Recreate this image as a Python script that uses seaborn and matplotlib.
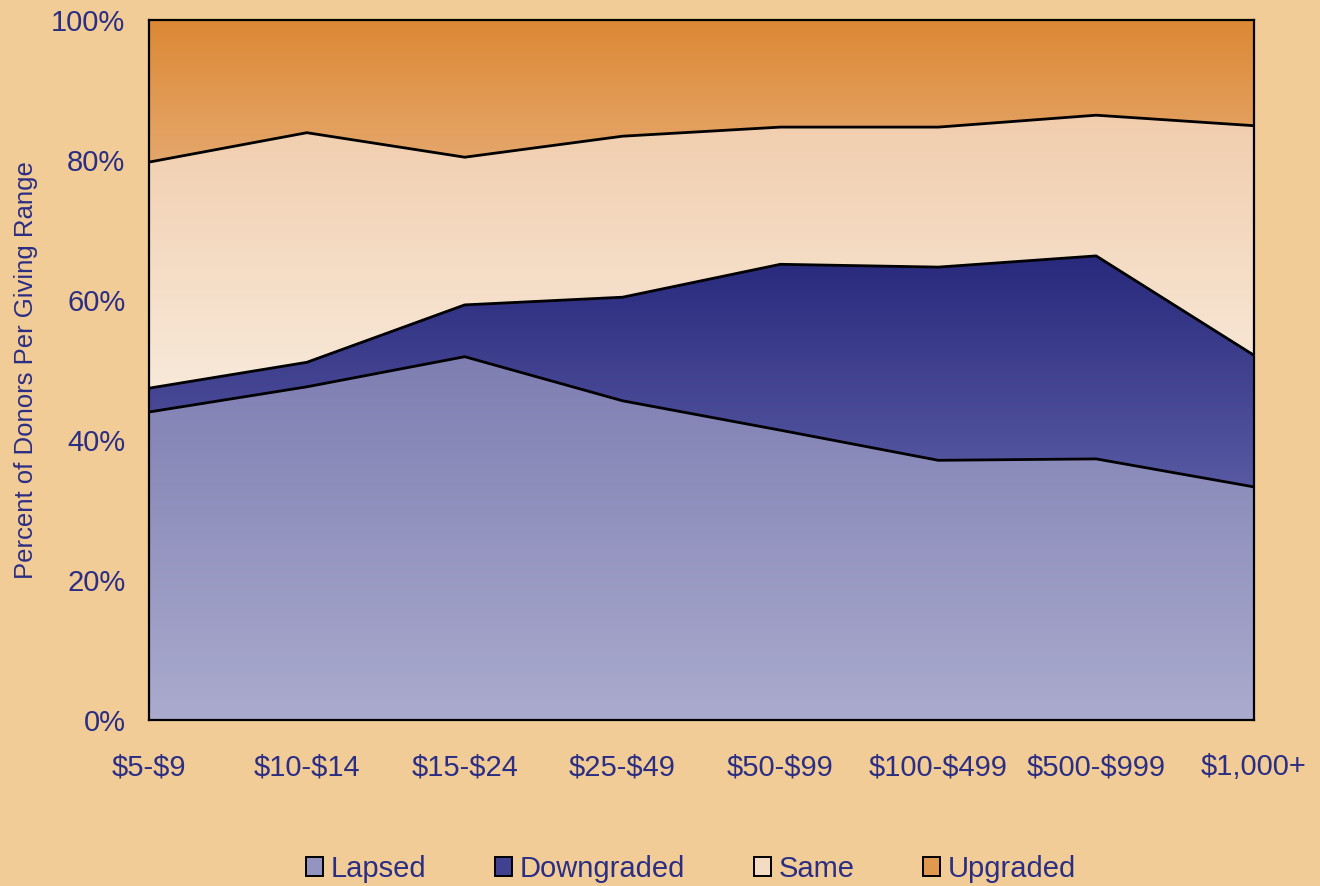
import numpy as np
import pandas as pd
import matplotlib
matplotlib.use("Agg")
import matplotlib.pyplot as plt
import matplotlib.colors as mcolors
from matplotlib.patches import Patch
import seaborn as sns

categories = ["$5-$9", "$10-$14", "$15-$24", "$25-$49", "$50-$99", "$100-$499", "$500-$999", "$1,000+"]
lapsed = [44.0, 47.6, 51.9, 45.6, 41.4, 37.1, 37.3, 33.3]
downgraded = [3.4, 3.5, 7.4, 14.8, 23.7, 27.6, 29.0, 18.8]
same = [32.3, 32.8, 21.1, 23.0, 19.6, 20.0, 20.1, 32.8]
upgraded = [20.3, 16.1, 19.6, 16.6, 15.3, 15.3, 13.6, 15.1]
series_names = ["Lapsed", "Downgraded", "Same", "Upgraded"]
yticks = [0, 20, 40, 60, 80, 100]

BG = "#F2CC96"
TXT = "#2B2E83"
# (bottom colour, top colour) of each gradient fill
grads = {
    "Lapsed": ("#AAABCE", "#7E7EB2"),
    "Downgraded": ("#5859A2", "#29297D"),
    "Same": ("#F8E9D9", "#F1CDAD"),
    "Upgraded": ("#E5A76C", "#DC8833"),
}

sns.set_theme(style="white", rc={"axes.facecolor": BG, "figure.facecolor": BG})
plt.rcParams["font.family"] = ["Liberation Sans", "DejaVu Sans"]
plt.rcParams["text.parse_math"] = False

fig = plt.figure(figsize=(13.2, 8.86), dpi=100)
ax = fig.add_axes([149 / 1320, 1 - 720 / 886, (1254 - 149) / 1320, 700 / 886])

x = np.arange(len(categories))
data = [lapsed, downgraded, same, upgraded]
base = np.zeros(len(x))
tops = []
for name, vals in zip(series_names, data):
    top = base + np.array(vals)
    poly = ax.fill_between(x, base, top, facecolor="none", edgecolor="none", lw=0)
    lo, hi = base.min(), top.max()
    c0 = np.array(mcolors.to_rgb(grads[name][0]))
    c1 = np.array(mcolors.to_rgb(grads[name][1]))
    t = np.linspace(0, 1, 256)[:, None]
    img = (c0 * (1 - t) + c1 * t)[:, None, :]
    im = ax.imshow(img, extent=[x[0], x[-1], lo, hi], origin="lower", aspect="auto",
                   interpolation="bilinear", zorder=1)
    im.set_clip_path(poly.get_paths()[0], transform=ax.transData)
    tops.append(top)
    base = top

lines_df = pd.DataFrame({"x": np.tile(x, 3),
                         "y": np.concatenate(tops[:3]),
                         "b": np.repeat(series_names[:3], len(x))})
sns.lineplot(data=lines_df, x="x", y="y", units="b", estimator=None, color="black",
             lw=2.0, ax=ax, zorder=3, legend=False)

ax.set_xlim(x[0], x[-1])
ax.set_ylim(0, 100)
ax.set_xticks(x)
ax.set_xticklabels(categories)
ax.set_yticks(yticks)
ax.set_yticklabels([f"{v}%" for v in yticks])
ax.tick_params(axis="x", length=0, pad=24, labelsize=21, labelcolor=TXT)
ax.tick_params(axis="y", length=0, pad=17, labelsize=21, labelcolor=TXT)
ax.set_xlabel("")
ax.set_ylabel("Percent of Donors Per Giving Range", fontsize=18.5, color=TXT)
ax.yaxis.set_label_coords(-111 / 1105, 0.5)
for s in ax.spines.values():
    s.set_visible(True)
    s.set_color("black")
    s.set_linewidth(1.6)
    s.set_zorder(5)

handles = [Patch(facecolor=mcolors.to_hex((np.array(mcolors.to_rgb(grads[n][0])) +
                                           np.array(mcolors.to_rgb(grads[n][1]))) / 2),
                 edgecolor="black", lw=1.4) for n in series_names]
leg = fig.legend(handles, series_names, loc="center", bbox_to_anchor=(691 / 1320, 1 - 869 / 886),
                 ncol=4, frameon=False, fontsize=21, handlelength=0.6, handleheight=0.6,
                 handletextpad=0.25, columnspacing=2.35, labelcolor=TXT)

fig.savefig("out.png", dpi=100, facecolor=BG)
